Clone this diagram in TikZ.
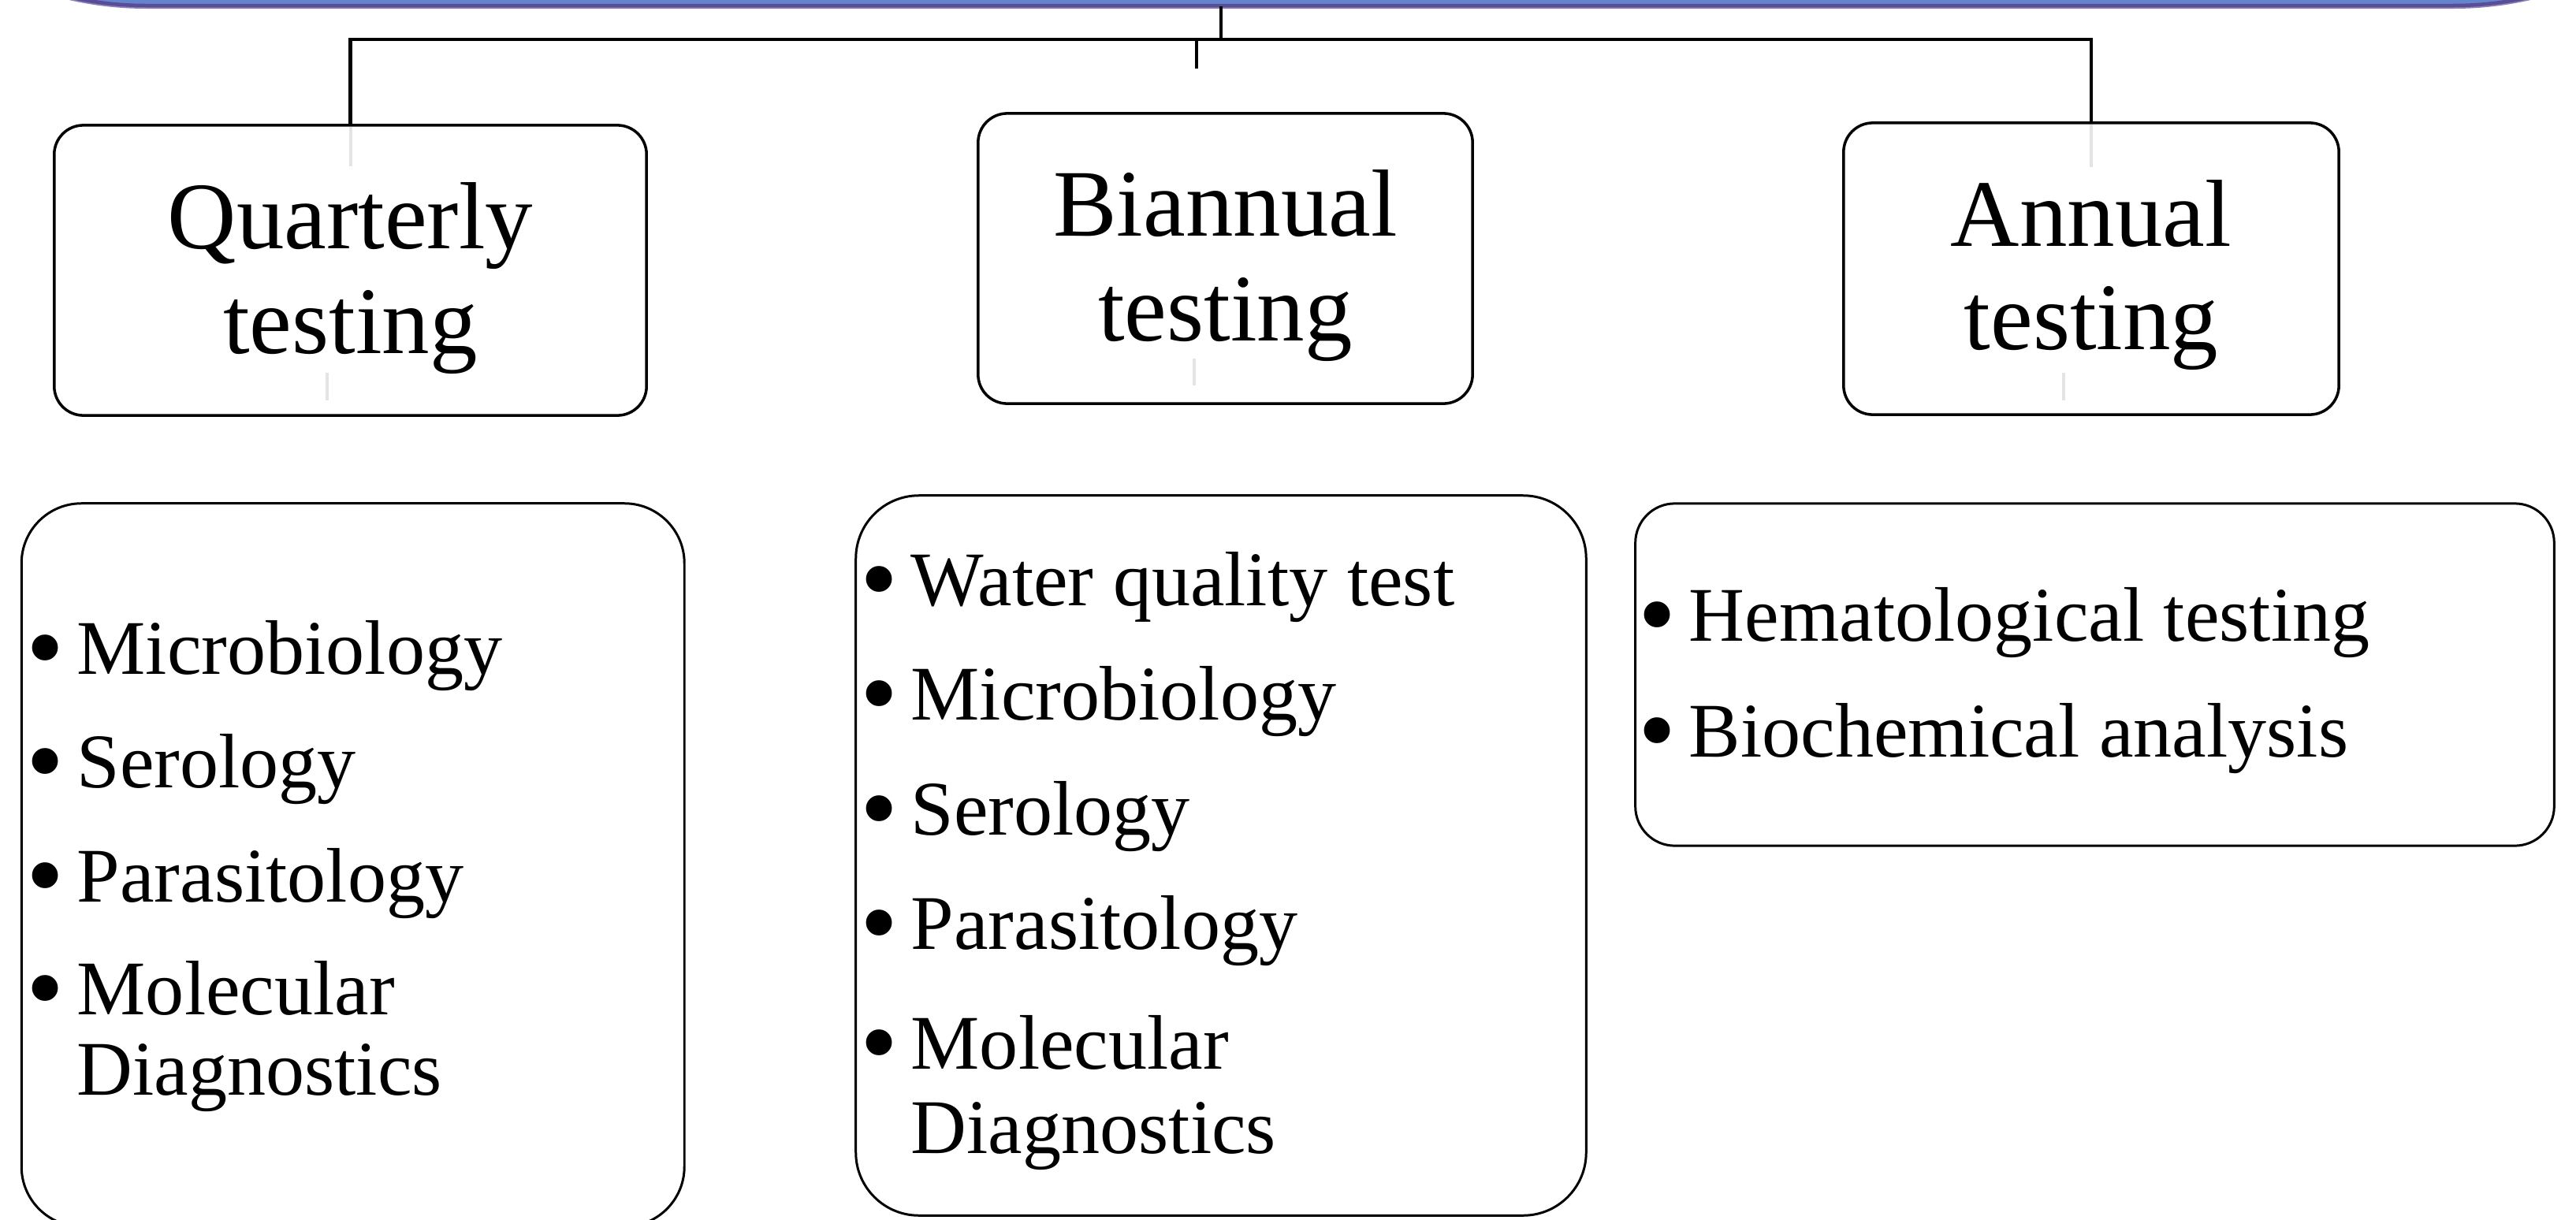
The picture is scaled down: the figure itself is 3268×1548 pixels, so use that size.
\documentclass[tikz,border=0pt]{standalone}
\usepackage{fontspec}
\setmainfont{Liberation Serif}
\definecolor{topfill}{RGB}{101,132,206}
\definecolor{topline}{RGB}{89,77,151}
\definecolor{topshade}{RGB}{140,128,184}
\definecolor{faint}{RGB}{228,228,228}
\newcommand\itembullet{\makebox[0.64cm][l]{\raisebox{-0.13em}{\scalebox{1.4}{•}}}}
\begin{document}
\begin{tikzpicture}[x=0.01cm,y=-0.01cm,
  conn/.style={line width=1.14pt, black},
  faintline/.style={line width=1.1pt, faint},
  headbox/.style={draw, line width=1pt, rounded corners=0.37cm, inner sep=0},
  listbox/.style={draw, line width=0.85pt, inner sep=0},
  headtext/.style={anchor=base, inner sep=0, font=\fontsize{34.4}{40}\selectfont},
  itemtext/.style={anchor=base west, inner sep=0, font=\fontsize{27.9}{32}\selectfont}]
\useasboundingbox (0,0) rectangle (3268,1548);
\clip (0,0) rectangle (3268,1548);
% top banner (cut off)
\fill[topshade, rounded corners=4.35cm] (-250,-1000) rectangle (3548,11);
\draw[topline, fill=topfill, line width=1.28pt, rounded corners=4.35cm] (-250,-1000) rectangle (3548,7);
\coordinate (topc) at (1549,8);
\coordinate (bar) at (1549,50);
\coordinate (stubtop) at (1518,50);
\coordinate (stub) at (1518,87);
% header boxes
\node[headbox, minimum width=7.51cm, minimum height=3.68cm] (q) at (444.5,343) {};
\node[headbox, minimum width=6.27cm, minimum height=3.68cm] (b) at (1554.5,328) {};
\node[headbox, minimum width=6.28cm, minimum height=3.70cm] (a) at (2653,341) {};
% faint marks
\draw[faintline] (445,161) -- (445,211);
\draw[faintline] (415,473) -- (415,508);
\draw[faintline] (1515,455) -- (1515,489);
\draw[faintline] (2653,158) -- (2653,212);
\draw[faintline] (2618,473) -- (2618,508);
% connectors
\draw[conn] (topc) -- (bar);
\draw[conn] (q.north) -- (q.north |- bar) -- (a.north |- bar) -- (a.north);
\draw[conn] (stubtop) -- (stub);
% header texts
\node[headtext] (q1) at (444.5,315) {Quarterly};
\node[headtext] (q2) at (444.5,448) {testing};
\node[headtext] (b1) at (1554.5,299) {Biannual};
\node[headtext] (b2) at (1554.5,432) {testing};
\node[headtext] (a1) at (2653,312) {Annual};
\node[headtext] (a2) at (2653,443) {testing};
% list boxes
\node[listbox, rounded corners=0.76cm, minimum width=8.405cm, minimum height=9.17cm] (l) at (447.75,1097.5) {};
\node[listbox, rounded corners=0.80cm, minimum width=9.26cm, minimum height=9.13cm] (m) at (1549,1085.5) {};
\node[listbox, rounded corners=0.50cm, minimum width=11.65cm, minimum height=4.34cm] (r) at (2657.5,856) {};
% left list
\node[itemtext] (l1) at (33,855) {\itembullet Microbiology};
\node[itemtext] (l2) at (33,999) {\itembullet Serology};
\node[itemtext] (l3) at (33,1144) {\itembullet Parasitology};
\node[itemtext] (l4) at (33,1287) {\itembullet Molecular};
\node[itemtext] (l5) at (97,1389) {Diagnostics};
% middle list
\node[itemtext] (m1) at (1091,768) {\itembullet Water quality test};
\node[itemtext] (m2) at (1091,913) {\itembullet Microbiology};
\node[itemtext] (m3) at (1091,1059) {\itembullet Serology};
\node[itemtext] (m4) at (1091,1204) {\itembullet Parasitology};
\node[itemtext] (m5) at (1091,1356) {\itembullet Molecular};
\node[itemtext] (m6) at (1155,1463) {Diagnostics};
% right list
\node[itemtext] (r1) at (2078,813) {\itembullet Hematological testing};
\node[itemtext] (r2) at (2078,960) {\itembullet Biochemical analysis};
\end{tikzpicture}
\end{document}
